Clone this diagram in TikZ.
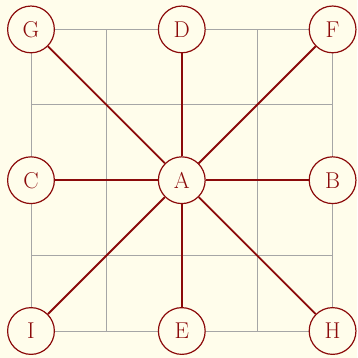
\documentclass[tikz,border=0pt]{standalone}
\usepackage{tikz}
\definecolor{paper}{HTML}{FFFDEB}
\definecolor{wine}{HTML}{8B0A0A}

\begin{document}
\begin{tikzpicture}[x=2cm, y=2cm,
  board/.style ={draw=gray!70, line width=0.6pt},
  spot/.style  ={circle, draw=wine, fill=paper, line width=0.9pt,
                 minimum size=1.24cm, inner sep=0pt, text=wine, font=\LARGE},
  link/.style  ={draw=wine, line width=1.4pt}]

  % background / margins
  \fill[paper] (-0.411,-0.358) rectangle (4.324,4.39);
  \useasboundingbox (-0.411,-0.358) rectangle (4.324,4.39);

  % 4x4 board
  \draw[board, step=2cm] (0,0) grid (4,4);

  % the nine spots
  \node[spot] (A) at (2,2){A};
  \node[spot] (B) at (4,2){B};
  \node[spot] (C) at (0,2){C};
  \node[spot] (D) at (2,4){D};
  \node[spot] (E) at (2,0){E};
  \node[spot] (F) at (4,4){F};
  \node[spot] (G) at (0,4){G};
  \node[spot] (H) at (4,0){H};
  \node[spot] (I) at (0,0){I};

  % links from the centre
  \foreach \n in {B,C,D,E,F,G,H,I}{\draw[link] (A) -- (\n);}
\end{tikzpicture}
\end{document}
